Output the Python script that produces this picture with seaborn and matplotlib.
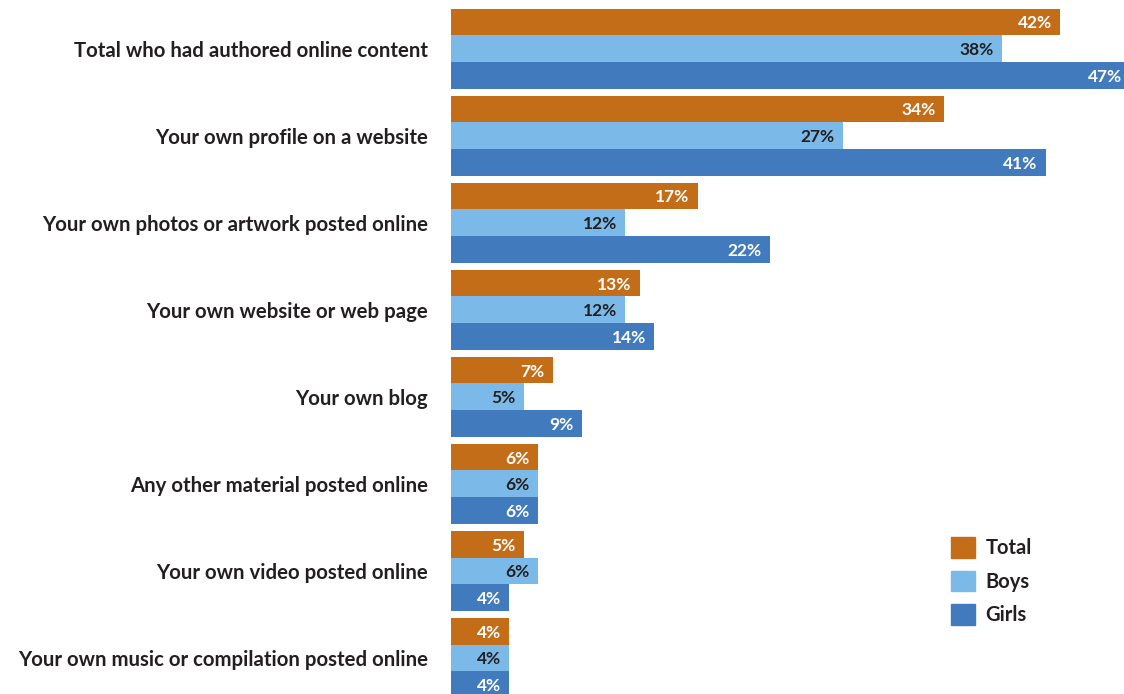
import matplotlib
matplotlib.use("Agg")
import matplotlib.pyplot as plt
import matplotlib.patches as mpatches
import seaborn as sns
import pandas as pd

categories = [
    "Total who had authored online content",
    "Your own profile on a website",
    "Your own photos or artwork posted online",
    "Your own website or web page",
    "Your own blog",
    "Any other material posted online",
    "Your own video posted online",
    "Your own music or compilation posted online",
]
series = ["Total", "Boys", "Girls"]
total = [42, 34, 17, 13, 7, 6, 5, 4]
boys = [38, 27, 12, 12, 5, 6, 6, 4]
girls = [47, 41, 22, 14, 9, 6, 4, 4]

colors = {"Total": "#C46D19", "Boys": "#7AB9E8", "Girls": "#427BBD"}
text_colors = {"Total": "white", "Boys": "#231F20", "Girls": "white"}
ink = "#231F20"

df = pd.DataFrame({
    "category": categories * 3,
    "group": ["Total"] * 8 + ["Boys"] * 8 + ["Girls"] * 8,
    "value": total + boys + girls,
})

sns.set_theme(style="white")
plt.rcParams["font.family"] = ["Lato", "DejaVu Sans"]

fig = plt.figure(figsize=(11.24, 6.94), dpi=100)
ax = fig.add_axes([451 / 1124, 0, 1 - 451 / 1124, (694 - 9) / 694])

sns.barplot(data=df, y="category", x="value", hue="group", order=categories,
            hue_order=series, palette=colors, orient="h", width=0.92,
            saturation=1, linewidth=0, legend=False, ax=ax)

xmax = 46.4
ax.set_xlim(0, xmax)
ax.set_ylim(7.414, -0.454)

# value labels at the end of each bar
for container, name in zip(ax.containers, series):
    for patch in container:
        w = patch.get_width()
        y = patch.get_y() + patch.get_height() / 2
        clipped = w > xmax
        xr = xmax if clipped else w
        ax.annotate(f"{w:.0f}%", xy=(xr, y), xytext=(-1.5 if clipped else -6, 0),
                    textcoords="offset points", ha="right", va="center_baseline",
                    fontsize=12.5, fontweight="bold", color=text_colors[name])

ax.set_xlabel("")
ax.set_ylabel("")
ax.set_xticks([])
ax.tick_params(axis="y", length=0, pad=16.5)
for lbl in ax.get_yticklabels():
    lbl.set_fontsize(14.7)
    lbl.set_fontweight("bold")
    lbl.set_color(ink)
for s in ax.spines.values():
    s.set_visible(False)

handles = [mpatches.Patch(color=colors[s], label=s) for s in series]
leg = fig.legend(handles=handles, loc="upper left",
                 bbox_to_anchor=(933 / 1124, 1 - 519 / 694), frameon=False,
                 handlelength=1.2, handleheight=1.2, handletextpad=0.5,
                 labelspacing=0.62, fontsize=14.5)
for t in leg.get_texts():
    t.set_color(ink)
    t.set_fontweight("bold")

fig.savefig("out.png", dpi=100)
